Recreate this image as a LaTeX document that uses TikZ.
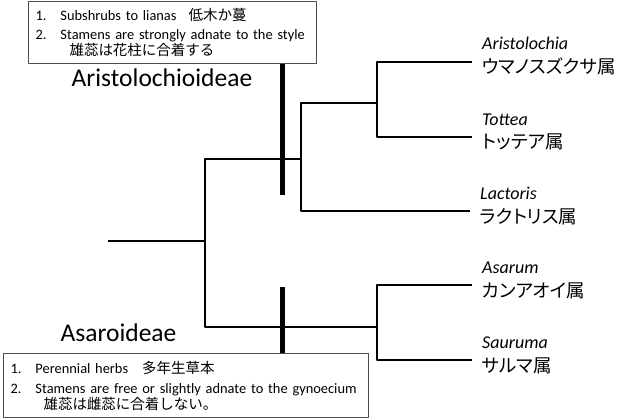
\documentclass[tikz,border=0pt]{standalone}
\usepackage{fontspec}
\setmainfont{Carlito}
\newfontfamily\jpfont{Noto Sans CJK JP}
\newfontfamily\kanafont[RawFeature=+palt]{Noto Sans CJK JP}
\usetikzlibrary{positioning}
\begin{document}
\begin{tikzpicture}[x=1pt,y=-1pt,line join=round,
    branch/.style={line width=1.5pt},
    synapo/.style={line width=5pt},
    trait/.style={draw=black!70,line width=1pt,fill=white,align=left,anchor=north west,inner xsep=7pt,inner ysep=0pt,font=\fontsize{14.4}{19}\selectfont},
    clade/.style={font=\fontsize{25.5}{30}\selectfont,anchor=base,inner sep=0pt},
    genus/.style={font=\fontsize{18}{20}\selectfont\itshape,anchor=base west,inner sep=0pt},
    kana/.style={font=\fontsize{18.5}{20}\selectfont\kanafont,anchor=base west,inner sep=0pt}]
    \useasboundingbox (0,0) rectangle (630,420);
    % junctions and tips
    \coordinate (root) at (108,241);
    \coordinate (n0) at (205,241);
    \coordinate (n1) at (301,159);
    \coordinate (n2) at (377,103);
    \coordinate (n3) at (377,327);
    \coordinate (aris) at (472,62);
    \coordinate (tott) at (472,137);
    \coordinate (lact) at (470,211);
    \coordinate (asar) at (472,285);
    \coordinate (saur) at (472,360);
    % tree
    \draw[branch] (root)--(n0);
    \draw[branch] (n0)|-(n1);
    \draw[branch] (n0)|-(n3);
    \draw[branch] (n1)|-(n2);
    \draw[branch] (n1)|-(lact);
    \draw[branch] (n2)|-(aris);
    \draw[branch] (n2)|-(tott);
    \draw[branch] (n3)|-(asar);
    \draw[branch] (n3)|-(saur);
    % genera
    \foreach \t/\g/\k in {aris/Aristolochia/ウマノスズクサ属,tott/Tottea/トッテア属,lact/Lactoris/ラクトリス属,asar/Asarum/カンアオイ属,saur/Sauruma/サルマ属}{
        \node[genus] (\t L) at ([shift={(10,-12)}]\t) {\g};
        \node[kana] (\t J) at ([shift={(10,12)}]\t) {\k};
    }
    % subfamilies
    \node[clade] (aristo) at (162,87) {Aristolochioideae};
    \node[clade] (asaro) at (118.5,341) {Asaroideae};
    % character boxes
    \node[trait,text width=274pt,minimum height=62pt] (boxA) at (28,1)
        {\makebox[25pt][l]{1.}Subshrubs to lianas\hspace{12pt}{\jpfont\fontsize{14.5}{19}\selectfont 低木か蔓}\\
         \makebox[25pt][l]{2.}\mbox{Stamens are strongly adnate to the style}\\[-3pt]
         \hspace*{34pt}{\jpfont\fontsize{14.5}{19}\selectfont 雄蕊は花柱に合着する}};
    \node[trait,text width=351pt,minimum height=64pt,font=\fontsize{14.4}{20}\selectfont] (boxB) at (3,353)
        {\makebox[25pt][l]{1.}Perennial herbs\hspace{14pt}{\jpfont\fontsize{14.5}{20}\selectfont 多年生草本}\\
         \makebox[25pt][l]{2.}\mbox{Stamens are free or slightly adnate to the gynoecium}\\[-4pt]
         \hspace*{33pt}{\jpfont\fontsize{14.5}{20}\selectfont 雄蕊は雌蕊に合着しない。}};
    % synapomorphy bars
    \coordinate (barA) at (282,195);
    \coordinate (barB) at (282,287);
    \draw[synapo] (boxA.south -| barA)--(barA);
    \draw[synapo] (barB)--(barB |- boxB.north);
\end{tikzpicture}
\end{document}
